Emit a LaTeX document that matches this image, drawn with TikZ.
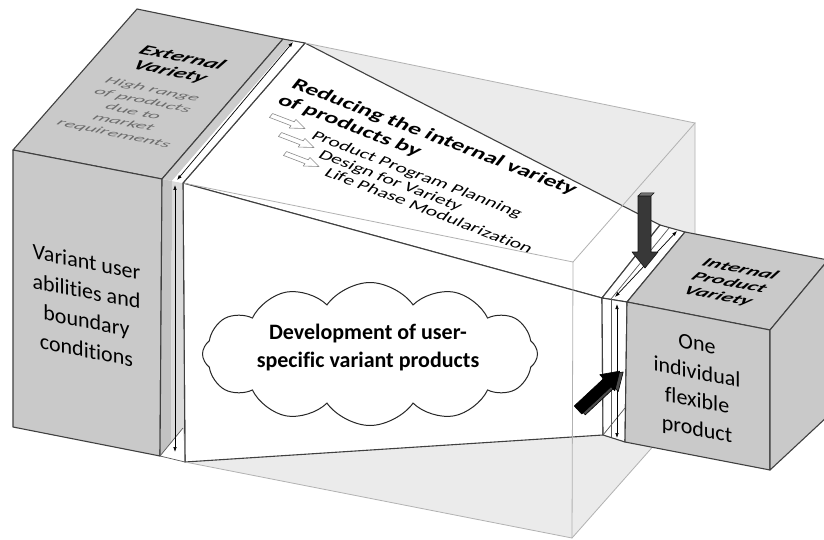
\documentclass[tikz,border=0pt]{standalone}
\usepackage{fontspec}
\setmainfont{Carlito}[Ligatures=NoCommon]
\usetikzlibrary{shapes.symbols,arrows.meta}
\begin{document}
\begin{tikzpicture}[x=1pt,y=1pt,
  edge/.style={draw=black!75, line width=1.1pt, line join=round},
  thinedge/.style={draw=black!65, line width=0.7pt},
  glassfill/.style={fill=black!8},
  glassline/.style={draw=black!30, line width=0.8pt},
  blockface/.style={fill=black!21, edge},
  dim/.style={draw=black, line width=0.7pt, {Latex[length=5pt,width=3.6pt]}-{Latex[length=5pt,width=3.6pt]}},
  lefttop/.style={cm={1.42,-0.289,0.657,0.754,(0,0)}},
  leftsub/.style={cm={1.8,-0.366,0.657,0.754,(0,0)}},
  cubetop/.style={cm={1.5,-0.29,0.637,0.769,(0,0)}},
  frontslant/.style={cm={1,-0.195,0,1,(0,0)}},
  reducetop/.style={cm={1.308,-0.501,0.62,0.78,(0,0)}},
  hollowarrow/.style={draw=black!45, fill=white, line width=0.6pt, line join=round},
  darkarrow/.style={fill=black!78, draw=black!92, line width=0.6pt, line join=round},
]
\clip (0,0) rectangle (824,-540);
\fill[white] (0,0) rectangle (824,-540);

% ---- glass room ----
\coordinate (gTF1) at (183,-183);
\coordinate (gTB1) at (305,-43);
\coordinate (gTB2) at (695,-123);
\coordinate (gTF2) at (573,-262);
\coordinate (gBF1) at (185,-462);
\coordinate (gBF2) at (572,-538);
\coordinate (gBB2) at (695,-399);
\coordinate (gBB1) at (305,-322);
% ---- frustum ----
\coordinate (fTL) at (183,-183);
\coordinate (fTB) at (305,-43);
\coordinate (fTBR) at (660,-225);
\coordinate (fTR) at (602,-298);
\coordinate (fBR) at (603,-435);
\coordinate (fBL) at (185,-462);
% ---- left block ----
\coordinate (lA) at (13,-150);
\coordinate (lB) at (137,-9);
\coordinate (lC) at (283,-39);
\coordinate (lD) at (162,-179);
\coordinate (lE) at (160,-456);
\coordinate (lF) at (13,-427);
\coordinate (sA) at (172,-181);
\coordinate (sB) at (171,-457);
\coordinate (sC) at (293,-41);
\coordinate (sLow) at (183,-428);
% ---- cube ----
\coordinate (cA) at (627,-302);
\coordinate (cB) at (770,-330);
\coordinate (cC) at (770,-470);
\coordinate (cD) at (625,-442);
\coordinate (cE) at (685,-232);
\coordinate (cF) at (828,-260);
\coordinate (cG) at (828,-416);
\coordinate (rA) at (611,-299);
\coordinate (rB) at (611,-437);
\coordinate (rC) at (669,-228);
\coordinate (rLow) at (625,-408);
% ---- dimension arrow ends ----
\coordinate (dL1) at (175,-185);
\coordinate (dL2) at (175,-452);
\coordinate (dL3) at (177,-180);
\coordinate (dL4) at (293,-42);
\coordinate (dR1) at (617,-304);
\coordinate (dR2) at (617,-438);
\coordinate (dR3) at (615,-297);
\coordinate (dR4) at (677,-231);

% glass faces
\path[glassfill] (gTF1) -- (gTB1) -- (gTB2) -- (gTF2) -- cycle;
\path[glassfill] (gTF2) -- (gTB2) -- (gBB2) -- (gBF2) -- cycle;
\path[glassfill] (gBF1) -- (gBF2) -- (gBB2) -- (gBB1) -- cycle;

% frustum faces
\draw[edge, fill=white] (fTL) -- (fTB) -- (fTBR) -- (fTR) -- cycle;
\draw[edge, fill=white] (fTL) -- (fTR) -- (fBR) -- (fBL) -- cycle;

% glass edges
\draw[glassline] (gTB1) -- (gTB2) -- (gTF2) -- (gTF1);
\draw[glassline] (gTB2) -- (gBB2) -- (gBF2) -- (gBF1);
\draw[glassline] (gTF2) -- (gBF2);

% left block
\draw[blockface] (lA) -- (lB) -- (lC) -- (lD) -- cycle;
\draw[blockface] (lA) -- (lD) -- (lE) -- (lF) -- cycle;
% left slab
\fill[black!24] (lD) -- (sA) -- (sB) -- (lE) -- cycle;
\fill[black!14] (sA) -- (fTL) -- (fBL) -- (sB) -- cycle;
\fill[white] (sLow) -- (fBL) -- (lE) -- cycle;
\fill[black!20] (lD) -- (lC) -- (sC) -- (sA) -- cycle;
\fill[white] (sA) -- (sC) -- (fTB) -- (fTL) -- cycle;
\draw[edge] (lD) -- (lC) -- (fTB) -- (fTL) -- (fBL);
\draw[edge] (lD) -- (lE);
\draw[thinedge] (sLow) -- (lE) -- (fBL);
\draw[dim] (dL1) -- (dL2);
\draw[dim] (dL3) -- (dL4);

% texts on the left block
\begin{scope}[shift={(86.5,-306)}, frontslant]
  \node[transform shape, align=center, font=\fontsize{22}{29.5}\selectfont] (lfront)
    {Variant user\\abilities and\\boundary\\conditions};
\end{scope}
\begin{scope}[shift={(176,-65)}, lefttop]
  \node[transform shape, align=center, font=\fontsize{17}{18.4}\selectfont\bfseries\itshape] (ltitle)
    {External\\Variety};
\end{scope}
\begin{scope}[shift={(133,-112)}, leftsub]
  \node[transform shape, align=center, text=black!58, font=\fontsize{11.5}{14.6}\selectfont\itshape] (lsub)
    {High range\\of products\\due to\\market\\requirements};
\end{scope}

% texts on the frustum top
\begin{scope}[shift={(290,-87)}, reducetop]
  \node[transform shape, anchor=base west, inner sep=0pt, font=\fontsize{18}{20}\selectfont\bfseries] (red1)
    {Reducing the internal variety};
\end{scope}
\begin{scope}[shift={(276,-103)}, reducetop]
  \node[transform shape, anchor=base west, inner sep=0pt, font=\fontsize{18}{20}\selectfont\bfseries] (red2)
    {of products by};
\end{scope}
\begin{scope}[shift={(310,-138)}, reducetop]
  \node[transform shape, anchor=base west, inner sep=0pt, font=\fontsize{15}{17}\selectfont] (item1)
    {Product Program Planning};
\end{scope}
\begin{scope}[shift={(317,-157)}, reducetop]
  \node[transform shape, anchor=base west, inner sep=0pt, font=\fontsize{15}{17}\selectfont] (item2)
    {Design for Variety};
\end{scope}
\begin{scope}[shift={(323,-175)}, reducetop]
  \node[transform shape, anchor=base west, inner sep=0pt, font=\fontsize{15}{17}\selectfont] (item3)
    {Life Phase Modularization};
\end{scope}
\foreach \ax/\ay in {288/-122, 297/-141, 302/-160}{
  \begin{scope}[shift={(\ax,\ay)}, reducetop]
    \draw[hollowarrow] (-13,-2.5) -- (3.5,-2.5) -- (3.5,-5.5) -- (13,0) -- (3.5,5.5) -- (3.5,2.5) -- (-13,2.5) -- cycle;
  \end{scope}
}

% cloud
\node[cloud, cloud puffs=12, cloud puff arc=110, aspect=2.4, draw=black!85, line width=1pt,
      fill=white, minimum width=335pt, minimum height=143pt, inner sep=0pt] (cloud) at (370,-354) {};
\node[align=center, font=\fontsize{22}{28}\selectfont\bfseries] (cloudtext) at (368,-348)
  {Development of user-\\specific variant products};

% right slab
\draw[edge, fill=white] (fTR) -- (fTBR) -- (cE) -- (cA) -- cycle;
\draw[edge, fill=white] (fTR) -- (cA) -- (cD) -- (fBR) -- cycle;
\draw[thinedge] (rA) -- (rB);
\draw[thinedge] (rA) -- (rC);
\draw[thinedge] (fBR) -- (rLow);
\draw[dim] (dR1) -- (dR2);
\draw[dim] (dR3) -- (dR4);

% cube
\draw[blockface] (cA) -- (cE) -- (cF) -- (cB) -- cycle;
\draw[blockface] (cA) -- (cB) -- (cC) -- (cD) -- cycle;
\draw[blockface] (cB) -- (cF) -- (cG) -- (cC) -- cycle;
\begin{scope}[shift={(729,-283)}, cubetop]
  \node[transform shape, align=center, font=\fontsize{15}{17.4}\selectfont\bfseries\itshape] (ctitle)
    {Internal\\Product\\Variety};
\end{scope}
\begin{scope}[shift={(697,-388)}, frontslant]
  \node[transform shape, align=center, font=\fontsize{22}{28.5}\selectfont] (cfront)
    {One\\individual\\flexible\\product};
\end{scope}

% solid arrows
\filldraw[darkarrow] (638,-196) -- (651,-196) -- (651,-252) -- (658,-252) -- (645,-268) -- (632,-252) -- (638,-252) -- cycle;
\filldraw[fill=black!55, draw=black!92, line width=0.5pt] (638,-196) -- (641,-193) -- (654,-193) -- (651,-196) -- cycle;
\begin{scope}[shift={(578,-410)}, rotate=43]
  \filldraw[fill=black!70, draw=black, line width=0.6pt, line join=round]
    (2,-8.5) -- (42,-8.5) -- (42,-14) -- (59,-3) -- (42,8) -- (42,2.5) -- (2,2.5) -- cycle;
  \filldraw[fill=black, draw=black, line width=0.6pt, line join=round]
    (0,-5.5) -- (40,-5.5) -- (40,-11) -- (57,0) -- (40,11) -- (40,5.5) -- (0,5.5) -- cycle;
\end{scope}
\end{tikzpicture}
\end{document}
